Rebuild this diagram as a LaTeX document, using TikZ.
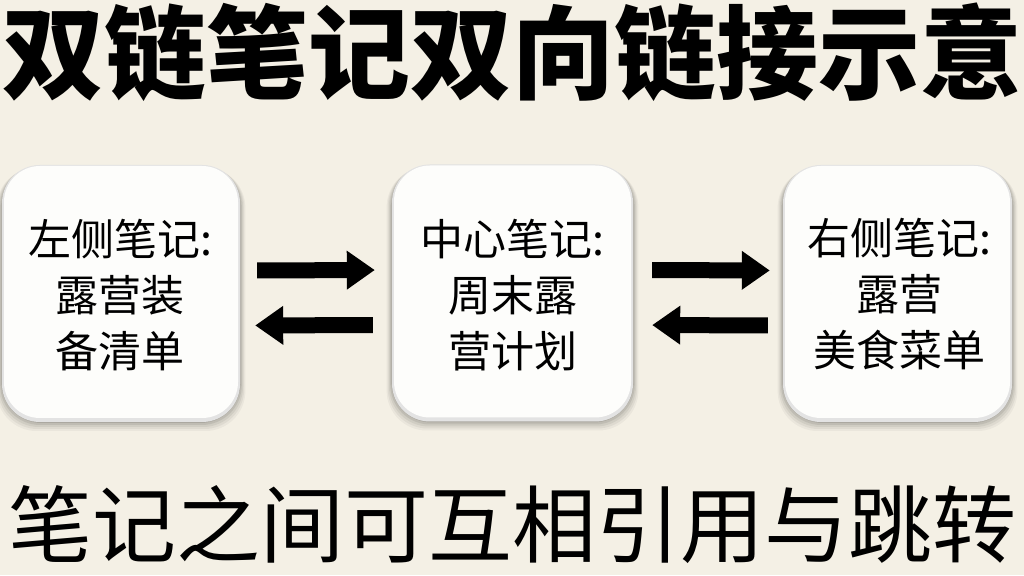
\documentclass[tikz,border=0pt]{standalone}
\usepackage{fontspec}
\usetikzlibrary{arrows.meta}
\newfontfamily\cjk{Noto Sans CJK SC}
\IfFontExistsTF{Noto Sans CJK SC Black}
  {\newfontfamily\cjkheavy{Noto Sans CJK SC Black}}
  {\newfontfamily\cjkheavy{Noto Sans CJK SC}[UprightFeatures={FakeBold=1.5}]}
\definecolor{bgcol}{RGB}{244,240,229}
\definecolor{boxcol}{RGB}{253,253,251}
\tikzset{
  notebox/.style={minimum width=#1, minimum height=257pt, inner sep=0pt},
  boxtext/.style={font=\cjk\fontsize{43}{56}\selectfont, align=center},
  bigarrow/.style={line width=16pt, -{Triangle[length=28pt,width=37pt]}},
}
\newcommand{\softbox}[3]{% center x, center y, width
  \foreach \k/\op in {9/0.04,7/0.05,5/0.06,3/0.08,1/0.10}{
    \fill[black, opacity=\op, rounded corners=40pt]
      ({#1-#3/2-\k*0.6}, {#2-128.5-\k*1.0}) rectangle ({#1+#3/2+\k*0.6}, {#2+128.5-\k*0.3});
  }
  \fill[gray!22, rounded corners=38pt] ({#1-#3/2}, {#2-128.5}) rectangle ({#1+#3/2}, {#2+128.5});
  \fill[boxcol, rounded corners=36pt] ({#1-#3/2+2}, {#2-128.5+4}) rectangle ({#1+#3/2-2}, {#2+128.5-1});
}
\begin{document}
\begin{tikzpicture}[x=1pt,y=1pt]
\useasboundingbox (0,0) rectangle (1024,575);
\fill[bgcol] (0,0) rectangle (1024,575);

% title
\node (title) at (512,523) {\cjkheavy\fontsize{102}{102}\selectfont 双链笔记双向链接示意};

% boxes
\softbox{121}{281.5}{238}
\softbox{512.5}{282}{241}
\softbox{897.5}{281.5}{229}
\node[notebox=238pt] (L) at (121,281.5) {};
\node[notebox=241pt] (C) at (512.5,282) {};
\node[notebox=229pt] (R) at (897.5,281.5) {};

\node[boxtext] (Lt) at (120,280) {左侧笔记:\\露营装\\备清单};
\node[boxtext] (Ct) at (512.5,280) {中心笔记:\\周末露\\营计划};
\node[boxtext] (Rt) at (899,281) {右侧笔记:\\露营\\美食菜单};

% arrows
\draw[bigarrow, shorten <=17pt, shorten >=17pt] ([yshift=23pt]L.east) -- ([yshift=23pt]C.west);
\draw[bigarrow, shorten <=19pt, shorten >=15pt] ([yshift=-32pt]C.west) -- ([yshift=-32pt]L.east);
\draw[bigarrow, shorten <=19pt, shorten >=13pt] ([yshift=23pt]C.east) -- ([yshift=23pt]R.west);
\draw[bigarrow, shorten <=15pt, shorten >=19pt] ([yshift=-32pt]R.west) -- ([yshift=-32pt]C.east);

% caption
\node (cap) at (512.5,50) {\cjk\fontsize{84}{84}\selectfont 笔记之间可互相引用与跳转};
\end{tikzpicture}
\end{document}
